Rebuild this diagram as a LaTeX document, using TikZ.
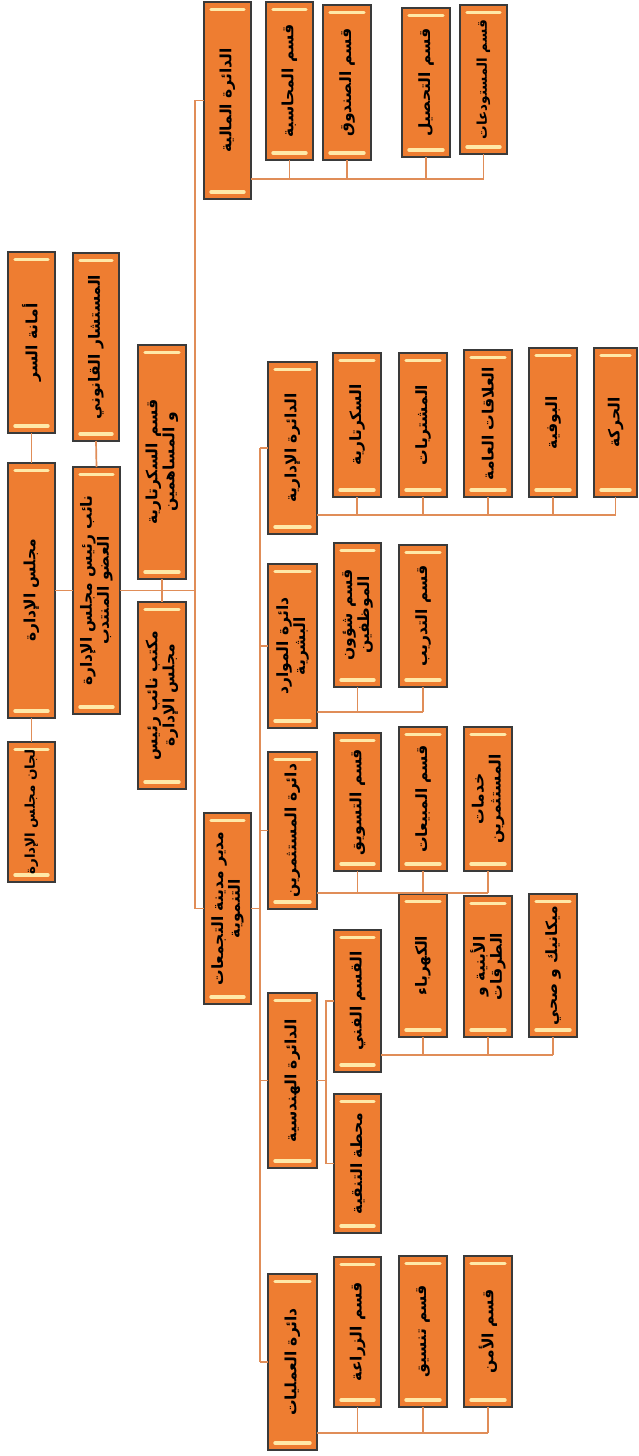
\documentclass[tikz,border=0pt]{standalone}
\usepackage{fontspec}
\TeXXeTstate=1
\newfontfamily\arabicfont[Script=Arabic]{DejaVu Sans}
\definecolor{boxfill}{HTML}{EE7D31}
\definecolor{boxline}{HTML}{3A3A3A}
\definecolor{bevelc}{HTML}{FFE9A8}
\definecolor{conn}{HTML}{E08D58}
\tikzset{
  orgbox/.style={draw=boxline, line width=1.2pt, fill=boxfill, inner sep=0pt, outer sep=0pt,
    path picture={
      \draw[bevelc, line width=3.4pt, line cap=round]
        ([xshift=7pt,yshift=-7.5pt]path picture bounding box.north west) --
        ([xshift=-7pt,yshift=-7.5pt]path picture bounding box.north east);
      \draw[bevelc, line width=3.4pt, line cap=round]
        ([xshift=7pt,yshift=7pt]path picture bounding box.south west) --
        ([xshift=-7pt,yshift=7pt]path picture bounding box.south east);
    }},
  orgtext/.style={rotate=90, font=\arabicfont\bfseries\fontsize{15.5}{17}\selectfont,
    align=center, text=black, inner sep=0pt},
  link/.style={draw=conn, line width=1.7pt},
}
\newcommand\ar[1]{\beginR #1\endR}
\newcommand\smallar{\fontsize{13.5}{15}\selectfont}
\newcommand\orgbx[6]{%
  \node[orgbox, minimum width={(#4-#2)*1pt}, minimum height={(#5-#3)*1pt}]
    (#1) at ({(#2+#4)/2},{(#3+#5)/2}) {};
  \node[orgtext] (#1-t) at (#1.center) {#6};}
\begin{document}
\begin{tikzpicture}[x=1pt,y=-1pt]
\fill[white] (0,0) rectangle (638,1456);
\useasboundingbox (0,0) rectangle (638,1456);

% trunks
\coordinate (tA) at (195,0);
\coordinate (tB) at (260,0);
\coordinate (tC) at (326,0);

% ---- boxes ----
\orgbx{amana}{8}{252}{55}{433}{\ar{أمانة السر}}
\orgbx{majlis}{8}{463}{55}{718}{\ar{مجلس الإدارة}}
\orgbx{lijan}{8}{742}{55}{882}{\smallar\ar{لجان مجلس الإدارة}}
\orgbx{mustashar}{73}{253}{119}{441}{\ar{المستشار القانوني}}
\orgbx{naib}{73}{467}{120}{714}{\ar{نائب رئيس مجلس الإدارة}\\\ar{العضو المنتدب}}
\orgbx{sec}{138}{345}{186}{579}{\ar{قسم السكرتارية}\\\ar{و المساهمين}}
\orgbx{office}{138}{602}{186}{789}{\ar{مكتب نائب رئيس}\\\ar{مجلس الإدارة}}

\orgbx{maliya}{204}{2}{251}{199}{\ar{الدائرة المالية}}
\orgbx{muhasaba}{266}{2}{313}{160}{\ar{قسم المحاسبة}}
\orgbx{sunduq}{323}{5}{371}{160}{\ar{قسم الصندوق}}
\orgbx{tahsil}{402}{8}{450}{157}{\ar{قسم التحصيل}}
\orgbx{mustawdaat}{460}{5}{507}{154}{\smallar\ar{قسم المستودعات}}

\orgbx{idariya}{268}{362}{317}{534}{\ar{الدائرة الإدارية}}
\orgbx{sikritariya}{333}{353}{381}{497}{\ar{السكرتارية}}
\orgbx{mushtarayat}{399}{353}{447}{497}{\ar{المشتريات}}
\orgbx{alaqat}{464}{350}{512}{497}{\ar{العلاقات العامة}}
\orgbx{bufiya}{529}{348}{577}{497}{\ar{البوفية}}
\orgbx{haraka}{594}{348}{637}{497}{\ar{الحركة}}

\orgbx{mudir}{204}{813}{251}{1004}{\ar{مدير مدينة التجمعات}\\\ar{التنموية}}

\orgbx{mawarid}{268}{564}{317}{728}{\ar{دائرة الموارد}\\\ar{البشرية}}
\orgbx{shuun}{334}{543}{381}{687}{\ar{قسم شؤون}\\\ar{الموظفين}}
\orgbx{tadrib}{399}{545}{447}{687}{\ar{قسم التدريب}}

\orgbx{mustathmirin}{268}{752}{317}{909}{\ar{دائرة المستثمرين}}
\orgbx{taswiq}{334}{733}{381}{871}{\ar{قسم التسويق}}
\orgbx{mabiat}{399}{727}{447}{871}{\ar{قسم المبيعات}}
\orgbx{khadamat}{464}{727}{512}{871}{\ar{خدمات}\\\ar{المستثمرين}}

\orgbx{handasiya}{268}{993}{317}{1168}{\ar{الدائرة الهندسية}}
\orgbx{fanni}{334}{930}{381}{1072}{\ar{القسم الفني}}
\orgbx{kahraba}{399}{894}{447}{1037}{\ar{الكهرباء}}
\orgbx{abniya}{464}{896}{512}{1037}{\ar{الأبنية و}\\\ar{الطرقات}}
\orgbx{mikanik}{529}{894}{577}{1037}{\ar{ميكانيك و صحي}}
\orgbx{mahatta}{334}{1094}{381}{1233}{\ar{محطة التنقية}}

\orgbx{amaliyat}{268}{1274}{317}{1450}{\ar{دائرة العمليات}}
\orgbx{ziraa}{334}{1257}{381}{1407}{\ar{قسم الزراعة}}
\orgbx{tansiq}{399}{1256}{447}{1407}{\ar{قسم تنسيق}}
\orgbx{amn}{464}{1256}{512}{1407}{\ar{قسم الأمن}}

% ---- connectors ----
\draw[link] (amana.south) -- (majlis.north);
\draw[link] (majlis.south) -- (lijan.north);
\draw[link] (mustashar.south) -- (naib.north);
\draw[link] (majlis.east) -- (naib.west);
\draw[link] (naib.east) -- (naib.east -| tA);
\draw[link] (sec.south) -- (office.north);
\draw[link] (maliya.west) -- (maliya.west -| tA) -- (mudir.west -| tA) -- (mudir.west);
\draw[link] (mudir.east) -- (mudir.east -| tB);
\draw[link] (idariya.west -| tB) -- (amaliyat.west -| tB);
\foreach \d in {idariya,mawarid,mustathmirin,handasiya,amaliyat}
  \draw[link] (\d.west) -- (\d.west -| tB);

% buses
\coordinate (busM) at (0,179);
\draw[link] (maliya.east |- busM) -- (mustawdaat.south |- busM);
\foreach \c in {muhasaba,sunduq,tahsil,mustawdaat}
  \draw[link] (\c.south) -- (\c.south |- busM);

\coordinate (busI) at (0,515);
\draw[link] (idariya.east |- busI) -- (haraka.south |- busI);
\foreach \c in {sikritariya,mushtarayat,alaqat,bufiya,haraka}
  \draw[link] (\c.south) -- (\c.south |- busI);

\coordinate (busR) at (0,712);
\draw[link] (mawarid.east |- busR) -- (tadrib.south |- busR);
\foreach \c in {shuun,tadrib}
  \draw[link] (\c.south) -- (\c.south |- busR);

\coordinate (busS) at (0,893);
\draw[link] (mustathmirin.east |- busS) -- (khadamat.south |- busS);
\foreach \c in {taswiq,mabiat,khadamat}
  \draw[link] (\c.south) -- (\c.south |- busS);

\draw[link] (handasiya.east) -- (handasiya.east -| tC);
\draw[link] (fanni.west) -- (fanni.west -| tC) -- (mahatta.west -| tC) -- (mahatta.west);

\coordinate (busF) at (0,1055);
\draw[link] (fanni.east |- busF) -- (mikanik.south |- busF);
\foreach \c in {kahraba,abniya,mikanik}
  \draw[link] (\c.south) -- (\c.south |- busF);

\coordinate (busO) at (0,1433);
\draw[link] (amaliyat.east |- busO) -- (amn.south |- busO);
\foreach \c in {ziraa,tansiq,amn}
  \draw[link] (\c.south) -- (\c.south |- busO);
\end{tikzpicture}
\end{document}
